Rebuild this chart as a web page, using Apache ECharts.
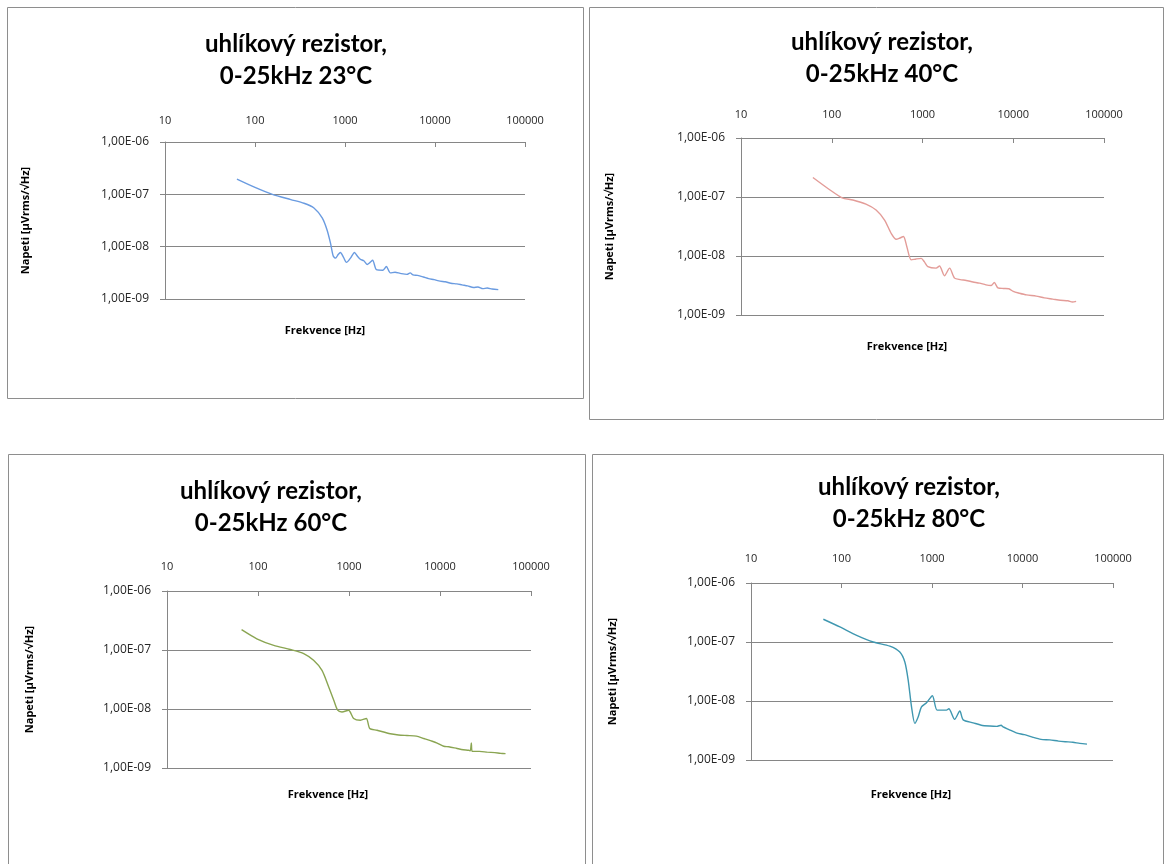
<!DOCTYPE html>
<html>
<head>
<meta charset="utf-8">
<script src="https://cdn.jsdelivr.net/npm/echarts@6/dist/echarts.min.js"></script>
<style>
html,body{margin:0;padding:0;background:#fff;}
#c{width:1167px;height:864px;}
</style>
</head>
<body>
<div id="c"></div>
<script>
// ---- Data ----
const titles = [
  'uhlíkový rezistor,\n0-25kHz 23°C',
  'uhlíkový rezistor,\n0-25kHz 40°C',
  'uhlíkový rezistor,\n0-25kHz 60°C',
  'uhlíkový rezistor,\n0-25kHz 80°C'
];
const xAxisName = 'Frekvence [Hz]';
const yAxisName = 'Napeti [μVrms/√Hz]';
const xTicks = [10, 100, 1000, 10000, 100000];
const yTicks = ['1,00E-09', '1,00E-08', '1,00E-07', '1,00E-06'];

const freq23 = [63, 100, 156, 250, 350, 452, 558, 632, 690, 740, 785, 840, 890, 960, 1040, 1150, 1275, 1370, 1480, 1620, 1760, 1900, 2030, 2235, 2640, 2880, 3190, 3600, 4100, 4880, 5300, 5700, 6400, 7440, 8500, 9800, 11400, 13000, 15000, 17500, 20000, 23000, 26800, 30000, 34000, 38000, 43000, 50500];
const volt23 = [1.96e-7, 1.36e-7, 1.00e-7, 7.94e-8, 6.76e-8, 5.50e-8, 3.55e-8, 2.09e-8, 1.17e-8, 6.61e-9, 6.03e-9, 7.08e-9, 7.76e-9, 6.31e-9, 5.01e-9, 6.03e-9, 7.76e-9, 6.61e-9, 5.75e-9, 5.37e-9, 4.57e-9, 5.01e-9, 5.50e-9, 3.63e-9, 3.55e-9, 4.17e-9, 3.16e-9, 3.24e-9, 3.09e-9, 2.95e-9, 3.16e-9, 2.88e-9, 2.82e-9, 2.63e-9, 2.45e-9, 2.34e-9, 2.19e-9, 2.14e-9, 2.00e-9, 1.95e-9, 1.86e-9, 1.78e-9, 1.66e-9, 1.70e-9, 1.58e-9, 1.62e-9, 1.55e-9, 1.51e-9];

const freq40 = [62, 94, 130, 171, 238, 308, 382, 451, 513, 557, 617, 671, 750, 851, 967, 1050, 1145, 1413, 1540, 1745, 1990, 2255, 2600, 3030, 3600, 4250, 5000, 5710, 6180, 6780, 7800, 8940, 10000, 11700, 14000, 17900, 22000, 27300, 33000, 40000, 45000, 49300];
const volt40 = [2.14e-7, 1.34e-7, 9.70e-8, 8.91e-8, 7.59e-8, 6.03e-8, 4.07e-8, 2.43e-8, 1.92e-8, 2.00e-8, 2.14e-8, 1.45e-8, 8.61e-9, 8.91e-9, 9.12e-9, 7.94e-9, 6.61e-9, 6.22e-9, 6.76e-9, 4.62e-9, 6.22e-9, 4.22e-9, 3.98e-9, 3.85e-9, 3.63e-9, 3.47e-9, 3.24e-9, 3.16e-9, 3.55e-9, 2.88e-9, 2.82e-9, 2.79e-9, 2.51e-9, 2.34e-9, 2.19e-9, 2.09e-9, 1.95e-9, 1.86e-9, 1.78e-9, 1.74e-9, 1.66e-9, 1.70e-9];

const freq60 = [66, 97, 149, 226, 318, 408, 505, 600, 680, 750, 837, 990, 1125, 1333, 1550, 1690, 2030, 2840, 3500, 4330, 5500, 6650, 8000, 9300, 11000, 12500, 15400, 18000, 20650, 21500, 22100, 22600, 27000, 33000, 40000, 46000, 52500];
const volt60 = [2.21e-7, 1.55e-7, 1.20e-7, 1.02e-7, 8.71e-8, 6.68e-8, 4.52e-8, 2.34e-8, 1.41e-8, 9.55e-9, 8.91e-9, 9.55e-9, 6.92e-9, 6.46e-9, 6.92e-9, 4.68e-9, 4.37e-9, 3.80e-9, 3.63e-9, 3.55e-9, 3.47e-9, 3.16e-9, 2.88e-9, 2.65e-9, 2.34e-9, 2.29e-9, 2.14e-9, 2.04e-9, 2.00e-9, 1.95e-9, 2.65e-9, 1.91e-9, 1.91e-9, 1.86e-9, 1.82e-9, 1.78e-9, 1.75e-9];

const freq80 = [63, 96, 147, 224, 342, 441, 501, 546, 594, 646, 703, 765, 870, 1010, 1140, 1445, 1535, 1780, 2030, 2210, 2850, 3500, 4360, 5200, 5800, 6110, 7000, 8530, 10500, 13100, 16000, 20000, 25000, 30000, 36000, 43000, 51600];
const volt80 = [2.43e-7, 1.80e-7, 1.30e-7, 1.00e-7, 8.51e-8, 6.76e-8, 4.57e-8, 2.24e-8, 7.94e-9, 4.17e-9, 5.37e-9, 7.94e-9, 9.33e-9, 1.23e-8, 7.00e-9, 7.00e-9, 7.41e-9, 4.90e-9, 6.76e-9, 4.79e-9, 4.27e-9, 3.89e-9, 3.76e-9, 3.72e-9, 3.89e-9, 3.63e-9, 3.31e-9, 2.88e-9, 2.69e-9, 2.42e-9, 2.24e-9, 2.19e-9, 2.09e-9, 2.04e-9, 2.00e-9, 1.91e-9, 1.86e-9];

const freqs = [freq23, freq40, freq60, freq80];
const volts = [volt23, volt40, volt60, volt80];
const colors = ['#6a9be0', '#e39c98', '#8aa552', '#3f97b0'];

// ---- Layout ----
const TFONT = 'Lato';
const FONT = 'Open Sans';
const panels = [
  {frame:[7, 7, 576, 391],  grid:{left:165, top:142, width:360, height:157}, title:[291, 23], xname:[325, 331], labMargin:16, nameGap:134},
  {frame:[589, 7, 574, 412], grid:{left:741, top:138, width:363, height:177}, title:[877, 21], xname:[907, 347], labMargin:18, nameGap:126},
  {frame:[8, 454, 577, 430], grid:{left:167, top:591, width:364, height:177}, title:[266, 470], xname:[328, 795], labMargin:19, nameGap:132},
  {frame:[592, 454, 571, 430], grid:{left:751, top:583, width:362, height:177}, title:[904, 466], xname:[911, 795], labMargin:19, nameGap:133}
];

const AX = '#868686';
const TXT = '#262626';

const option = {
  animation: false,
  backgroundColor: '#ffffff',
  title: panels.map((p, i) => ({
    text: titles[i],
    left: p.title[0], top: p.title[1],
    textAlign: 'center',
    textStyle: {fontFamily: TFONT, fontSize: 24, fontWeight: 'bold', color: '#000', lineHeight: 32}
  })),
  grid: panels.map(p => Object.assign({containLabel: false}, p.grid)),
  xAxis: panels.map((p, i) => ({
    type: 'log', logBase: 10, gridIndex: i, position: 'top',
    min: xTicks[0], max: xTicks[xTicks.length - 1], interval: 1,
    axisLine: {show: true, lineStyle: {color: AX, width: 1}},
    axisTick: {show: true, inside: true, length: 5, lineStyle: {color: AX}},
    minorTick: {show: false},
    splitLine: {show: false},
    axisLabel: {margin: p.labMargin, color: TXT, fontFamily: FONT, fontSize: 11,
      formatter: v => String(Math.round(v))}
  })),
  yAxis: panels.map((p, i) => ({
    type: 'log', logBase: 10, gridIndex: i,
    min: 1e-9, max: 1e-6, interval: 1,
    name: yAxisName, nameLocation: 'middle', nameGap: p.nameGap,
    nameTextStyle: {fontFamily: FONT, fontSize: 11, fontWeight: 'bold', color: '#000'},
    axisLine: {show: true, lineStyle: {color: AX, width: 1}},
    axisTick: {show: true, inside: false, length: 5, lineStyle: {color: AX}},
    splitLine: {show: true, lineStyle: {color: AX, width: 1}},
    axisLabel: {margin: 16, color: TXT, fontFamily: FONT, fontSize: 12,
      formatter: v => {
        const e = Math.round(Math.log10(v));
        return yTicks.find(t => t.endsWith(String(Math.abs(e)).padStart(2, '0'))) || '';
      }}
  })),
  graphic: panels.map(p => ({
    type: 'rect', silent: true, z: -10,
    shape: {x: p.frame[0] + 0.5, y: p.frame[1] + 0.5, width: p.frame[2], height: p.frame[3]},
    style: {fill: '#fff', stroke: '#8e8e8e', lineWidth: 1}
  })).concat(panels.map(p => ({
    type: 'text', silent: true, z: 10,
    x: p.xname[0], y: p.xname[1],
    style: {text: xAxisName, fontFamily: FONT, fontSize: 11, fontWeight: 'bold', fill: '#000',
      textAlign: 'center', textVerticalAlign: 'middle'}
  }))),
  series: panels.map((p, i) => ({
    type: 'line', xAxisIndex: i, yAxisIndex: i,
    data: freqs[i].map((f, k) => [f, volts[i][k]]),
    showSymbol: false, symbol: 'none', smooth: 0.25,
    lineStyle: {color: colors[i], width: 1.4},
    itemStyle: {color: colors[i]}
  }))
};

const chart = echarts.init(document.getElementById('c'), null, {renderer: 'canvas'});
chart.setOption(option);
</script>
</body>
</html>
